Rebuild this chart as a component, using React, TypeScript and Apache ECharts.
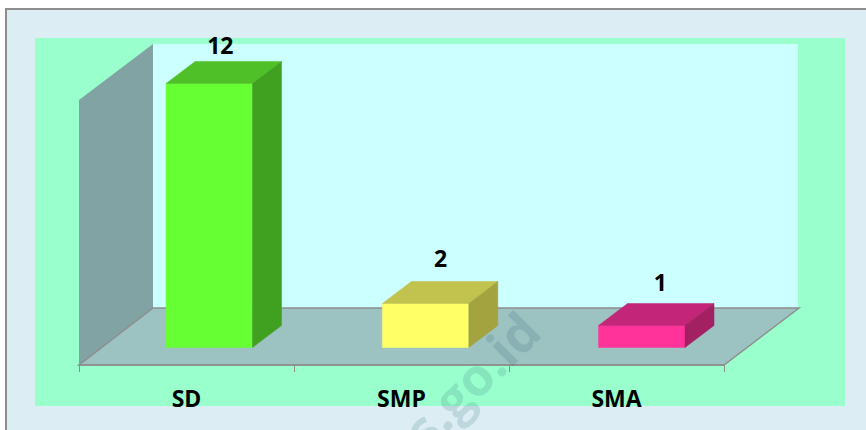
import React, { useEffect, useRef } from "react";
import * as echarts from "echarts";

const categories = ["SD", "SMP", "SMA"];
const values = [12, 2, 1];
const frontColors = ["#66FF33", "#FFFF66", "#FF3399"];
const topColors = ["#50C028", "#C2C24F", "#C32578"];
const sideColors = ["#40A020", "#A3A340", "#A32063"];

// layout of the pseudo-3D box (not data)
const GRID = { left: 79, top: 101, width: 645, height: 264 };
const DEPTH = { dx: 74, dy: 57 };
const BAR = { dx: 29, dy: 22, widthRatio: 0.402 };
const BAR_NUDGE = [0.3, 1.6, 2.8];
const LABEL_LIFT = [17, 24, 22];
const LABEL_NUDGE = [-3.5, 0.5, 4];
const FONT = '"Open Sans", sans-serif';

function renderBar(params: any, api: any) {
  const idx = api.value(0);
  const val = api.value(1);
  const top = api.coord([idx, val]);
  const bottom = api.coord([idx, 0]);
  const w = api.size([1, 0])[0] * BAR.widthRatio;
  const shiftX = (DEPTH.dx - BAR.dx) / 2 + BAR_NUDGE[idx];
  const shiftY = (DEPTH.dy - BAR.dy) / 2;
  const x0 = top[0] + shiftX - w / 2;
  const x1 = x0 + w;
  const y0 = top[1] - shiftY;
  const y1 = bottom[1] - shiftY;
  const edge = (c: string) => ({ fill: c, stroke: c, lineWidth: 0.5 });
  return {
    type: "group",
    children: [
      {
        type: "polygon",
        shape: { points: [[x0, y0], [x1, y0], [x1, y1], [x0, y1]] },
        style: edge(frontColors[idx]),
      },
      {
        type: "polygon",
        shape: { points: [[x0, y0], [x0 + BAR.dx, y0 - BAR.dy], [x1 + BAR.dx, y0 - BAR.dy], [x1, y0]] },
        style: edge(topColors[idx]),
      },
      {
        type: "polygon",
        shape: { points: [[x1, y0], [x1 + BAR.dx, y0 - BAR.dy], [x1 + BAR.dx, y1 - BAR.dy], [x1, y1]] },
        style: edge(sideColors[idx]),
      },
      {
        type: "text",
        x: (x0 + x1 + BAR.dx) / 2 + LABEL_NUDGE[idx],
        y: y0 - BAR.dy - LABEL_LIFT[idx],
        style: {
          text: String(val),
          fill: "#000",
          font: `bold 23px ${FONT}`,
          align: "center",
          verticalAlign: "middle",
        },
      },
    ],
  };
}

export default function App() {
  const ref = useRef<HTMLDivElement>(null);
  useEffect(() => {
    document.body.style.margin = "0";
    const chart = echarts.init(ref.current!, undefined, { renderer: "svg" });
    const g = GRID;
    const xL = g.left;
    const xR = g.left + g.width;
    const yB = g.top + g.height;
    chart.setOption({
      animation: false,
      backgroundColor: "#fff",
      grid: { left: g.left, top: g.top, width: g.width, height: g.height, containLabel: false },
      xAxis: {
        type: "category",
        data: categories,
        z: 1,
        axisLine: { lineStyle: { color: "#8E8E8E", width: 1.5 } },
        axisTick: { show: true, length: 7, lineStyle: { color: "#8E8E8E", width: 1 } },
        axisLabel: {
          margin: 21,
          color: "#000",
          fontFamily: FONT,
          fontWeight: "bold",
          fontSize: 23,
          lineHeight: 23,
        },
      },
      yAxis: { type: "value", min: 0, max: 12, show: false },
      graphic: [
        {
          type: "rect",
          z: -10,
          shape: { x: 6, y: 9, width: 870, height: 430 },
          style: { fill: "#DCEDF3", stroke: "#8E8E8E", lineWidth: 2 },
        },
        { type: "rect", z: -9, shape: { x: 35, y: 38, width: 810, height: 368 }, style: { fill: "#99FFCC" } },
        { type: "rect", z: -8, shape: { x: xL + DEPTH.dx, y: 44, width: xR - xL, height: yB - DEPTH.dy - 44 }, style: { fill: "#CCFFFF" } },
        {
          type: "polygon",
          z: -7,
          shape: { points: [[xL, 100], [xL + DEPTH.dx, 44], [xL + DEPTH.dx, yB - DEPTH.dy], [xL, yB]] },
          style: { fill: "#82A3A3" },
        },
        {
          type: "polygon",
          z: -7,
          shape: { points: [[xL, yB], [xR, yB], [xR + DEPTH.dx + 1, yB - DEPTH.dy], [xL + DEPTH.dx, yB - DEPTH.dy]] },
          style: { fill: "#9CC2C2", stroke: "#8E8E8E", lineWidth: 1.5 },
        },
        {
          type: "text",
          z: 50,
          x: 471,
          y: 379,
          rotation: Math.PI / 4,
          style: {
            text: "s.go.id",
            fill: "rgba(40,95,107,0.16)",
            font: `bold 52px ${FONT}`,
            align: "center",
            verticalAlign: "middle",
          },
        },
      ],
      series: [
        {
          type: "custom",
          coordinateSystem: "cartesian2d",
          renderItem: renderBar,
          encode: { x: 0, y: 1 },
          clip: false,
          z: 5,
          data: values.map((v, i) => [i, v]),
        },
      ],
    });
    return () => chart.dispose();
  }, []);
  return <div ref={ref} style={{ width: 866, height: 430 }} />;
}
